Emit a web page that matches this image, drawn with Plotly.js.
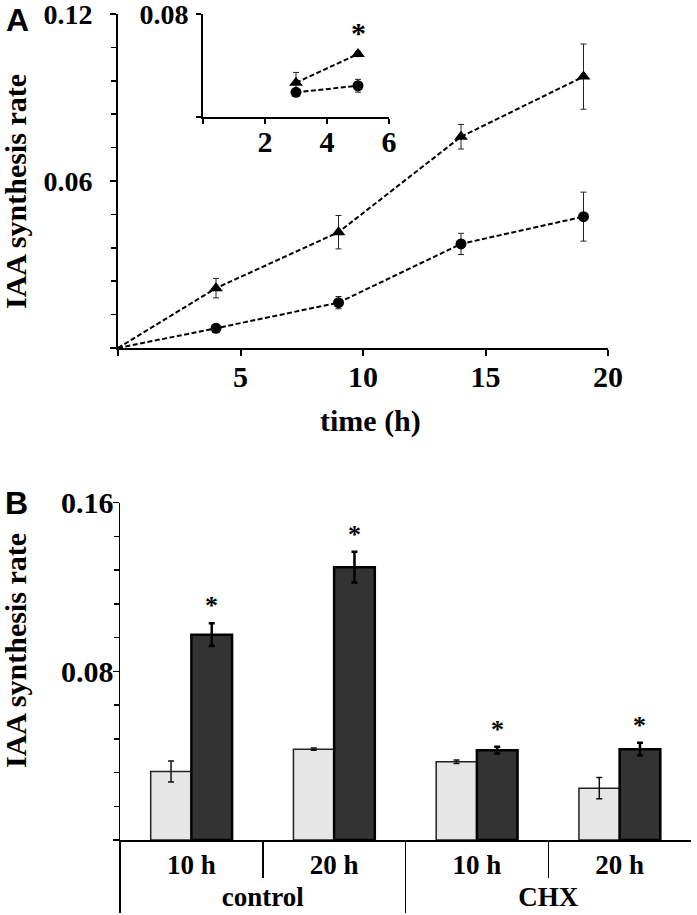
<!DOCTYPE html>
<html>
<head>
<meta charset="utf-8">
<script src="https://cdn.plot.ly/plotly-3.0.1.min.js"></script>
<style>
  body { margin: 0; background: #fff; }
  #plotArea { width: 697px; height: 915px; }
</style>
</head>
<body>
<div id="plotArea"></div>
<script>
// panel A - time course (h) of IAA synthesis rate
var timeA = [0, 4, 9, 14, 19];
var triRate = [0, 0.0215, 0.0416, 0.0759, 0.0975];
var triErr = [0, 0.0035, 0.006, 0.0044, 0.0117];
var dotRate = [0, 0.0071, 0.0163, 0.0374, 0.0472];
var dotErr = [0, 0.0008, 0.0022, 0.0038, 0.0088];

// inset of panel A
var timeInset = [3, 5];
var triInset = [0.0265, 0.0488];
var triInsetErr = [0.008, 0.002];
var dotInset = [0.019, 0.0241];
var dotInsetErr = [0.002, 0.005];
var insetStar = [false, true];

// panel B - bars
var treatment = ["control", "control", "CHX", "CHX"];
var hours = ["10 h", "20 h", "10 h", "20 h"];
var lightRate = [0.0325, 0.0431, 0.0371, 0.0246];
var lightErr = [0.005, 0.0005, 0.0008, 0.005];
var darkRate = [0.0974, 0.1294, 0.0426, 0.0431];
var darkErr = [0.0054, 0.0073, 0.0016, 0.003];
var darkStar = [true, true, true, true];

var serif = "Liberation Serif, Times New Roman, serif";
var dashLine = {color: "black", width: 2, dash: "5px,2.5px"};
var errA = function (arr) {
    return {type: "data", array: arr, visible: true, color: "#222", thickness: 1, width: 3};
};
// no marker at the origin, only the lines start there
var triSizes = timeA.map(function (t) { return t === 0 ? 0 : 12; });
var dotSizes = timeA.map(function (t) { return t === 0 ? 0 : 11; });

var traceTri = {
    x: timeA, y: triRate, error_y: errA(triErr),
    mode: "lines+markers", type: "scatter", cliponaxis: false,
    line: dashLine, marker: {symbol: "triangle-up", size: triSizes, color: "black", opacity: 1, line: {width: 0}},
    xaxis: "x", yaxis: "y", name: "triangles"
};
var traceDot = {
    x: timeA, y: dotRate, error_y: errA(dotErr),
    mode: "lines+markers", type: "scatter", cliponaxis: false,
    line: dashLine, marker: {symbol: "circle", size: dotSizes, color: "black", opacity: 1, line: {width: 0}},
    xaxis: "x", yaxis: "y", name: "circles"
};
var traceTriIn = {
    x: timeInset, y: triInset, error_y: errA(triInsetErr),
    mode: "lines+markers", type: "scatter", cliponaxis: false,
    line: dashLine, marker: {symbol: "triangle-up", size: 12, color: "black", line: {width: 0}},
    xaxis: "x2", yaxis: "y2", name: "triangles inset"
};
var traceDotIn = {
    x: timeInset, y: dotInset, error_y: errA(dotInsetErr),
    mode: "lines+markers", type: "scatter", cliponaxis: false,
    line: dashLine, marker: {symbol: "circle", size: 11, color: "black", line: {width: 0}},
    xaxis: "x2", yaxis: "y2", name: "circles inset"
};

var traceLight = {
    x: [treatment, hours], y: lightRate, type: "bar",
    marker: {color: "#e6e6e6", line: {color: "#222", width: 1.5}},
    error_y: {type: "data", array: lightErr, visible: true, color: "#111", thickness: 1.5, width: 3},
    xaxis: "x3", yaxis: "y3", name: "light"
};
var traceDark = {
    x: [treatment, hours], y: darkRate, type: "bar",
    marker: {color: "#333333", line: {color: "black", width: 2.5}},
    error_y: {type: "data", array: darkErr, visible: true, color: "black", thickness: 2.5, width: 3},
    xaxis: "x3", yaxis: "y3", name: "dark"
};

var tickFont = {family: serif, size: 28, color: "black", weight: "bold"};
var titleFont = {family: serif, size: 30, color: "black", weight: "bold"};
var letterFont = {family: "Liberation Sans, Arial", size: 32, weight: "bold", color: "black"};
var starFont = {family: serif, size: 26, color: "#000000", weight: "bold"};

function paperNote(text, px, py, extra) {
    return Object.assign({text: text, xref: "paper", yref: "paper", x: px / 697, y: 1 - py / 915,
        xanchor: "center", yanchor: "middle", showarrow: false, font: titleFont}, extra || {});
}

var annotations = [
    paperNote("A", 17, 20, {font: letterFont}),
    paperNote("B", 16, 503, {font: letterFont}),
    paperNote("IAA synthesis rate", 15, 192, {textangle: -90}),
    paperNote("IAA synthesis rate", 15, 651, {textangle: -90}),
    paperNote("time (h)", 370, 421)
];

insetStar.forEach(function (s, i) {
    if (!s) return;
    annotations.push({text: "*", xref: "x2", yref: "y2", x: timeInset[i],
        y: triInset[i] + triInsetErr[i], yanchor: "bottom", yshift: 0, showarrow: false,
        font: {family: serif, size: 30, color: "#000000", weight: "bold"}});
});
var halfBar = (1 - 0.43) / 4;
darkStar.forEach(function (s, i) {
    if (!s) return;
    annotations.push({text: "*", xref: "x4", yref: "y3", x: i + halfBar,
        y: darkRate[i] + darkErr[i], yanchor: "bottom", yshift: 1, showarrow: false,
        font: starFont});
});

var baseAxis = {
    showline: true, linecolor: "black", linewidth: 2, ticks: "outside", tickcolor: "black",
    tickwidth: 2, ticklen: 6, showgrid: false, zeroline: false, tickfont: tickFont,
    ticklabeloverflow: "allow", fixedrange: true
};
function ax(extra) { return Object.assign({}, baseAxis, extra); }

var layout = {
    width: 697, height: 915,
    margin: {l: 0, r: 0, t: 0, b: 0},
    paper_bgcolor: "white", plot_bgcolor: "rgba(0,0,0,0)",
    showlegend: false,
    barmode: "group", bargap: 0.43, bargroupgap: 0,
    font: {family: serif, color: "black"},
    xaxis: ax({domain: [118 / 697, 608 / 697], range: [0, 20], anchor: "y", tickfont: titleFont,
        tickvals: [0, 5, 10, 15, 20], ticktext: ["", "5", "10", "15", "20"], ticklabelstandoff: -5}),
    yaxis: ax({domain: [1 - 348 / 915, 1 - 14 / 915], range: [0, 0.12], anchor: "x",
        tickvals: [0, 0.06, 0.12], ticktext: ["", "0.06", "0.12"], ticklabelstandoff: 12,
        minor: {dtick: 0.012, ticks: "outside", ticklen: 5, tickwidth: 1.5, tickcolor: "black"}}),
    xaxis2: ax({domain: [203 / 697, 389 / 697], range: [0, 6], anchor: "y2", ticklen: 5, tickfont: titleFont,
        tickvals: [0, 2, 4, 6], ticktext: ["", "2", "4", "6"], ticklabelstandoff: -8}),
    yaxis2: ax({domain: [1 - 116.7 / 915, 1 - 14 / 915], range: [0, 0.08], anchor: "x2", ticklen: 5,
        tickvals: [0, 0.08], ticktext: ["", "0.08"], ticklabelstandoff: 2}),
    xaxis3: ax({domain: [120 / 697, 691 / 697], anchor: "y3", type: "multicategory",
        linewidth: 1.5, tickwidth: 1.5, ticklen: 36, tickson: "boundaries",
        showdividers: true, dividercolor: "black", dividerwidth: 1.5,
        tickfont: {family: serif, size: 27, color: "black", weight: "bold"}}),
    xaxis4: {overlaying: "x3", anchor: "y3", range: [-0.5, 3.5], visible: false, fixedrange: true},
    yaxis3: ax({domain: [1 - 840 / 915, 1 - 502.7 / 915], range: [0, 0.16], anchor: "x3",
        linewidth: 1.5, tickwidth: 1.5, tickfont: titleFont,
        tickvals: [0, 0.08, 0.16], ticktext: ["", "0.08", "0.16"], ticklabelstandoff: -7,
        minor: {dtick: 0.016, ticks: "outside", ticklen: 5, tickwidth: 1.5, tickcolor: "black"}}),
    annotations: annotations
};

Plotly.newPlot("plotArea", [traceTri, traceDot, traceTriIn, traceDotIn, traceLight, traceDark], layout,
    {displayModeBar: false, staticPlot: true});
</script>
</body>
</html>
